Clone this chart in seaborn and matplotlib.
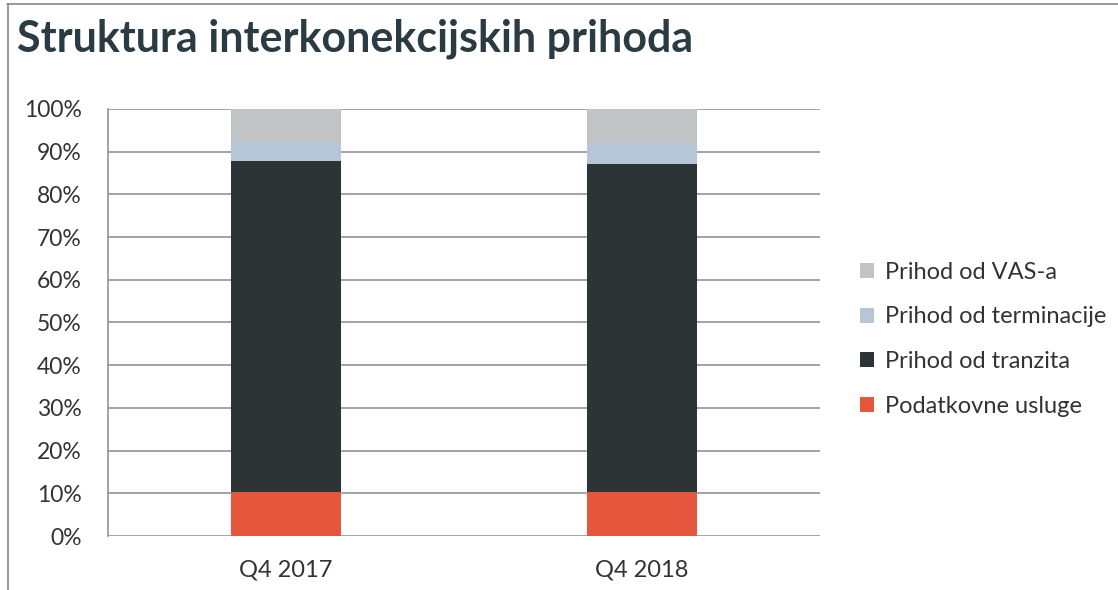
import pandas as pd
import matplotlib.pyplot as plt
import seaborn as sns
from matplotlib.lines import Line2D
from matplotlib.patches import Patch

# values (percent of total)
quarters = ['Q4 2017', 'Q4 2018']
podatkovne = [10.3, 10.4]
tranzit = [77.6, 76.7]
terminacija = [4.7, 4.9]
vas = [7.4, 8.0]

series = ['Podatkovne usluge', 'Prihod od tranzita', 'Prihod od terminacije', 'Prihod od VAS-a']
colors = ['#E4573D', '#2C3435', '#B7C6D6', '#C2C3C4']

df = pd.DataFrame({'kvartal': quarters,
                   series[0]: podatkovne, series[1]: tranzit,
                   series[2]: terminacija, series[3]: vas})
# cumulative tops for the stacked look
cum = df[series].cumsum(axis=1)
cum['kvartal'] = df['kvartal']

sns.set_style('white')
plt.rcParams['font.family'] = ['Lato', 'DejaVu Sans']

fig = plt.figure(figsize=(11.18, 5.9), dpi=100)
ax = fig.add_axes([0.0966, 0.0915, 0.6369, 0.7238])

# draw the tallest layer first so lower ones sit on top
for name, col in reversed(list(zip(series, colors))):
    sns.barplot(data=cum, x='kvartal', y=name, color=col, width=0.31,
                saturation=1, linewidth=0, ax=ax, zorder=3)

ax.set_ylim(0, 100)
ax.set_xlim(-0.5, 1.5)
ax.set_yticks(range(0, 101, 10))
ax.set_yticklabels([f'{v}%' for v in range(0, 101, 10)])
ax.yaxis.grid(True, color='#8A8A8A', linewidth=1.1, zorder=0)
ax.set_axisbelow(True)
ax.set_xlabel('')
ax.set_ylabel('')
for s in ['top', 'right', 'bottom']:
    ax.spines[s].set_visible(False)
ax.spines['left'].set_color('#8A8A8A')
ax.spines['left'].set_linewidth(1.1)
ax.tick_params(axis='y', length=0, pad=19, labelsize=16.5, labelcolor='#333333')
ax.tick_params(axis='x', length=0, pad=17, labelsize=17, labelcolor='#333333')

handles = [Patch(facecolor=c, edgecolor='none') for c in colors][::-1]
fig.legend(handles, series[::-1], loc='center left', bbox_to_anchor=(0.75, 0.425),
           frameon=False, fontsize=17, labelcolor='#333333', handlelength=0.6,
           handleheight=0.6, handletextpad=0.45, labelspacing=1.0)

fig.text(0.015, 0.935, 'Struktura interkonekcijskih prihoda', fontsize=31,
         fontweight='bold', color='#2B3B43', va='center')

# page frame from the scan
fig.add_artist(Line2D([0.006, 1], [0.994, 0.994], color='#888888', lw=1.2))
fig.add_artist(Line2D([0.007, 0.007], [0, 0.994], color='#888888', lw=1.2))

fig.savefig('out.png', dpi=100)
